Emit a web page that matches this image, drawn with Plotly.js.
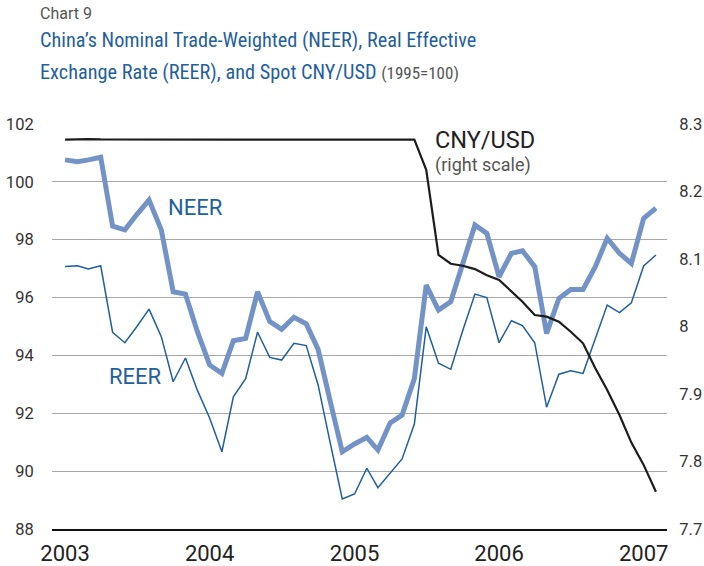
<!DOCTYPE html>
<html>
<head>
<meta charset="utf-8">
<script src="https://cdn.plot.ly/plotly-3.0.1.min.js"></script>
<style>html,body{margin:0;padding:0;background:#fff;}#chart{width:704px;height:566px;}</style>
</head>
<body>
<div id="chart"></div>
<script>
const months = [
 "2003-01","2003-02","2003-03","2003-04","2003-05","2003-06","2003-07","2003-08","2003-09","2003-10","2003-11","2003-12",
 "2004-01","2004-02","2004-03","2004-04","2004-05","2004-06","2004-07","2004-08","2004-09","2004-10","2004-11","2004-12",
 "2005-01","2005-02","2005-03","2005-04","2005-05","2005-06","2005-07","2005-08","2005-09","2005-10","2005-11","2005-12",
 "2006-01","2006-02","2006-03","2006-04","2006-05","2006-06","2006-07","2006-08","2006-09","2006-10","2006-11","2006-12",
 "2007-01","2007-02"
];
const neer = [
 100.76,100.70,100.76,100.85,98.47,98.34,98.87,99.37,98.34,96.20,96.12,94.83,
 93.67,93.38,94.51,94.59,96.20,95.17,94.90,95.32,95.09,94.21,92.39,90.67,
 90.94,91.17,90.73,91.67,91.94,93.20,96.43,95.57,95.86,97.20,98.51,98.22,
 96.72,97.53,97.62,97.07,94.76,95.97,96.28,96.28,97.07,98.05,97.53,97.18,
 98.74,99.09
];
const reer = [
 97.07,97.10,96.99,97.10,94.80,94.44,94.99,95.60,94.65,93.09,93.91,92.80,
 91.84,90.67,92.57,93.20,94.80,93.93,93.84,94.42,94.34,92.98,90.95,89.04,
 89.21,90.10,89.43,89.93,90.42,91.63,94.99,93.73,93.52,94.85,96.12,96.00,
 94.44,95.20,95.03,94.44,92.21,93.35,93.47,93.38,94.58,95.74,95.48,95.82,
 97.09,97.47
];
const cnyusd = [
 8.2768,8.2775,8.2777,8.2771,8.2770,8.2770,8.2776,8.2771,8.2770,8.2770,8.2770,8.2770,
 8.2770,8.2770,8.2770,8.2770,8.2770,8.2770,8.2770,8.2770,8.2770,8.2770,8.2770,8.2770,
 8.2770,8.2770,8.2770,8.2770,8.2770,8.2770,8.2320,8.1060,8.0930,8.0900,8.0850,8.0760,
 8.0690,8.0516,8.0368,8.0170,8.0146,8.0072,7.9923,7.9751,7.9380,7.9060,7.8689,7.8280,
 7.7950,7.7553
];
const yearTicks = ["2003-01-01","2004-01-01","2005-01-01","2006-01-01","2007-01-01"];
const yearLabels = ["2003","2004","2005","2006","2007"];
const leftTicks = [88,90,92,94,96,98,100,102];
const rightTicks = [7.7,7.8,7.9,8.0,8.1,8.2,8.3];
const rightLabels = ["7.7","7.8","7.9","8","8.1","8.2","8.3"];

const FONT = "Roboto, Arial, sans-serif";
const NARROW = "Liberation Sans Narrow, Roboto Condensed, Roboto, Arial, sans-serif";
const BLUE = "#1f5f9e";
const NEERC = "#7393c7";

const traces = [
 {x: months, y: reer, type: "scatter", mode: "lines", line: {color: BLUE, width: 1.5}, yaxis: "y", hoverinfo: "skip"},
 {x: months, y: neer, type: "scatter", mode: "lines", line: {color: NEERC, width: 5}, yaxis: "y", hoverinfo: "skip"},
 {x: months, y: cnyusd, type: "scatter", mode: "lines", line: {color: "#1c1c1c", width: 2.2}, yaxis: "y2", hoverinfo: "skip"}
];

const L = 52, R = 667, T = 124, B = 529;
function px(x){ return (x - L) / (R - L); }
function py(y){ return (B - y) / (B - T); }

const layout = {
 width: 704, height: 566,
 margin: {l: L, r: 704 - R, t: T, b: 566 - B},
 paper_bgcolor: "#fff", plot_bgcolor: "#fff",
 showlegend: false,
 font: {family: FONT, color: "#333"},
 xaxis: {
  type: "date", range: ["2002-11-29", "2007-03-01"],
  tickvals: yearTicks, ticktext: yearLabels,
  showgrid: false, zeroline: false,
  showline: true, linecolor: "#111", linewidth: 1.5,
  ticks: "outside", ticklen: 4, tickcolor: "rgba(0,0,0,0)",
  tickfont: {size: 22, color: "#222", family: FONT}
 },
 yaxis: {
  range: [88, 102], tickvals: leftTicks,
  showgrid: true, gridcolor: "#a8a8a8", gridwidth: 1.2,
  zeroline: false, showline: false,
  ticks: "outside", ticklen: 14, tickcolor: "rgba(0,0,0,0)",
  tickfont: {size: 16.5, color: "#333", family: FONT}
 },
 yaxis2: {
  overlaying: "y", side: "right",
  range: [7.7, 8.3], tickvals: rightTicks, ticktext: rightLabels,
  showgrid: false, zeroline: false, showline: false,
  ticks: "outside", ticklen: 8, tickcolor: "rgba(0,0,0,0)",
  tickfont: {size: 16.5, color: "#333", family: FONT}
 },
 annotations: [
  {text: "Chart 9", xref: "paper", yref: "paper", x: px(38), y: py(14), xanchor: "left", yanchor: "middle",
   showarrow: false, font: {size: 16, color: "#555", family: FONT}},
  {text: "China’s Nominal Trade-Weighted (NEER), Real Effective", xref: "paper", yref: "paper", x: px(38), y: py(40),
   xanchor: "left", yanchor: "middle", showarrow: false, font: {size: 20.3, color: BLUE, family: NARROW}},
  {text: "Exchange Rate (REER), and Spot CNY/USD <span style='font-size:17px;color:#555'>(1995=100)</span>", xref: "paper", yref: "paper", x: px(38), y: py(72),
   xanchor: "left", yanchor: "middle", showarrow: false, font: {size: 20.3, color: BLUE, family: NARROW}},
  {text: "NEER", xref: "paper", yref: "paper", x: px(195), y: py(207), xanchor: "center", yanchor: "middle",
   showarrow: false, font: {size: 22, color: BLUE, family: FONT}},
  {text: "REER", xref: "paper", yref: "paper", x: px(135.5), y: py(376), xanchor: "center", yanchor: "middle",
   showarrow: false, font: {size: 22, color: BLUE, family: FONT}},
  {text: "CNY/USD", xref: "paper", yref: "paper", x: px(433), y: py(140), xanchor: "left", yanchor: "middle",
   showarrow: false, font: {size: 23.5, color: "#222", family: FONT}},
  {text: "(right scale)", xref: "paper", yref: "paper", x: px(433), y: py(165), xanchor: "left", yanchor: "middle",
   showarrow: false, font: {size: 18, color: "#555", family: FONT}}
 ]
};

Plotly.newPlot("chart", traces, layout, {staticPlot: true, displayModeBar: false});
</script>
</body>
</html>
